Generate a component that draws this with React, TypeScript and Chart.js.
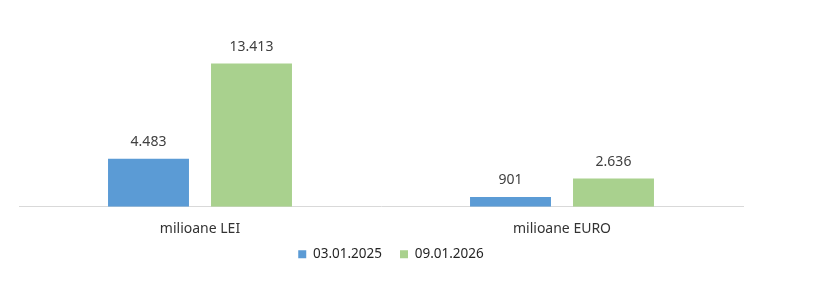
import React, { useEffect, useRef } from "react";
import { Chart, registerables } from "chart.js";

Chart.register(...registerables);

const categories = ["milioane LEI", "milioane EURO"];
const seriesNames = ["03.01.2025", "09.01.2026"];
const values2025 = [4483, 901];
const values2026 = [13413, 2636];
const colors = ["#5b9bd5", "#a9d18e"];

const fmt = (v: number) => v.toLocaleString("de-DE");

const labelPlugin = {
  id: "barLabels",
  afterLayout(chart: any) {
    const x = chart.scales.x;
    if (x) x.bottom = x.bottom + 20;
    const lg = chart.legend;
    if (lg) {
      lg.left += 10;
      lg.right += 10;
    }
  },
  afterDatasetsDraw(chart: any) {
    const ctx = chart.ctx;
    ctx.save();
    ctx.font = "14px 'Noto Sans', sans-serif";
    ctx.fillStyle = "#404040";
    ctx.textAlign = "center";
    ctx.textBaseline = "middle";
    chart.data.datasets.forEach((ds: any, i: number) => {
      const meta = chart.getDatasetMeta(i);
      meta.data.forEach((bar: any, j: number) => {
        ctx.fillText(fmt(ds.data[j]), bar.x, bar.y - 17);
      });
    });
    ctx.restore();
  },
};

export default function App() {
  const ref = useRef<HTMLCanvasElement>(null);
  useEffect(() => {
    if (!ref.current) return;
    const chart = new Chart(ref.current, {
      type: "bar",
      data: {
        labels: categories,
        datasets: [
          { label: seriesNames[0], data: values2025, backgroundColor: colors[0] },
          { label: seriesNames[1], data: values2026, backgroundColor: colors[1] },
        ],
      },
      options: {
        animation: false,
        responsive: false,
        maintainAspectRatio: false,
        layout: { padding: { left: 19, right: 85, top: 36, bottom: 24 } },
        datasets: { bar: { categoryPercentage: 0.569, barPercentage: 0.786 } },
        scales: {
          x: {
            grid: { display: false, drawTicks: false },
            border: { display: true, color: "#d9d9d9", width: 1 },
            ticks: { color: "#333333", font: { family: "'Noto Sans', sans-serif", size: 14 }, padding: 14 },
            afterFit: (scale: any) => {
              scale.height = scale.height - 22;
            },
          },
          y: { display: false, min: 0, max: 16000 },
        },
        plugins: {
          legend: {
            position: "bottom",
            labels: {
              boxWidth: 8,
              boxHeight: 8,
              padding: 18,
              color: "#262626",
              font: { family: "'Noto Sans', sans-serif", size: 13.5 },
            },
          },
          tooltip: { enabled: false },
        },
      },
      plugins: [labelPlugin],
    });
    return () => chart.destroy();
  }, []);
  return (
    <div style={{ position: "absolute", left: 0, top: 0, width: 828, height: 295 }}>
      <canvas ref={ref} width={828} height={295} style={{ width: 828, height: 295 }} />
    </div>
  );
}
